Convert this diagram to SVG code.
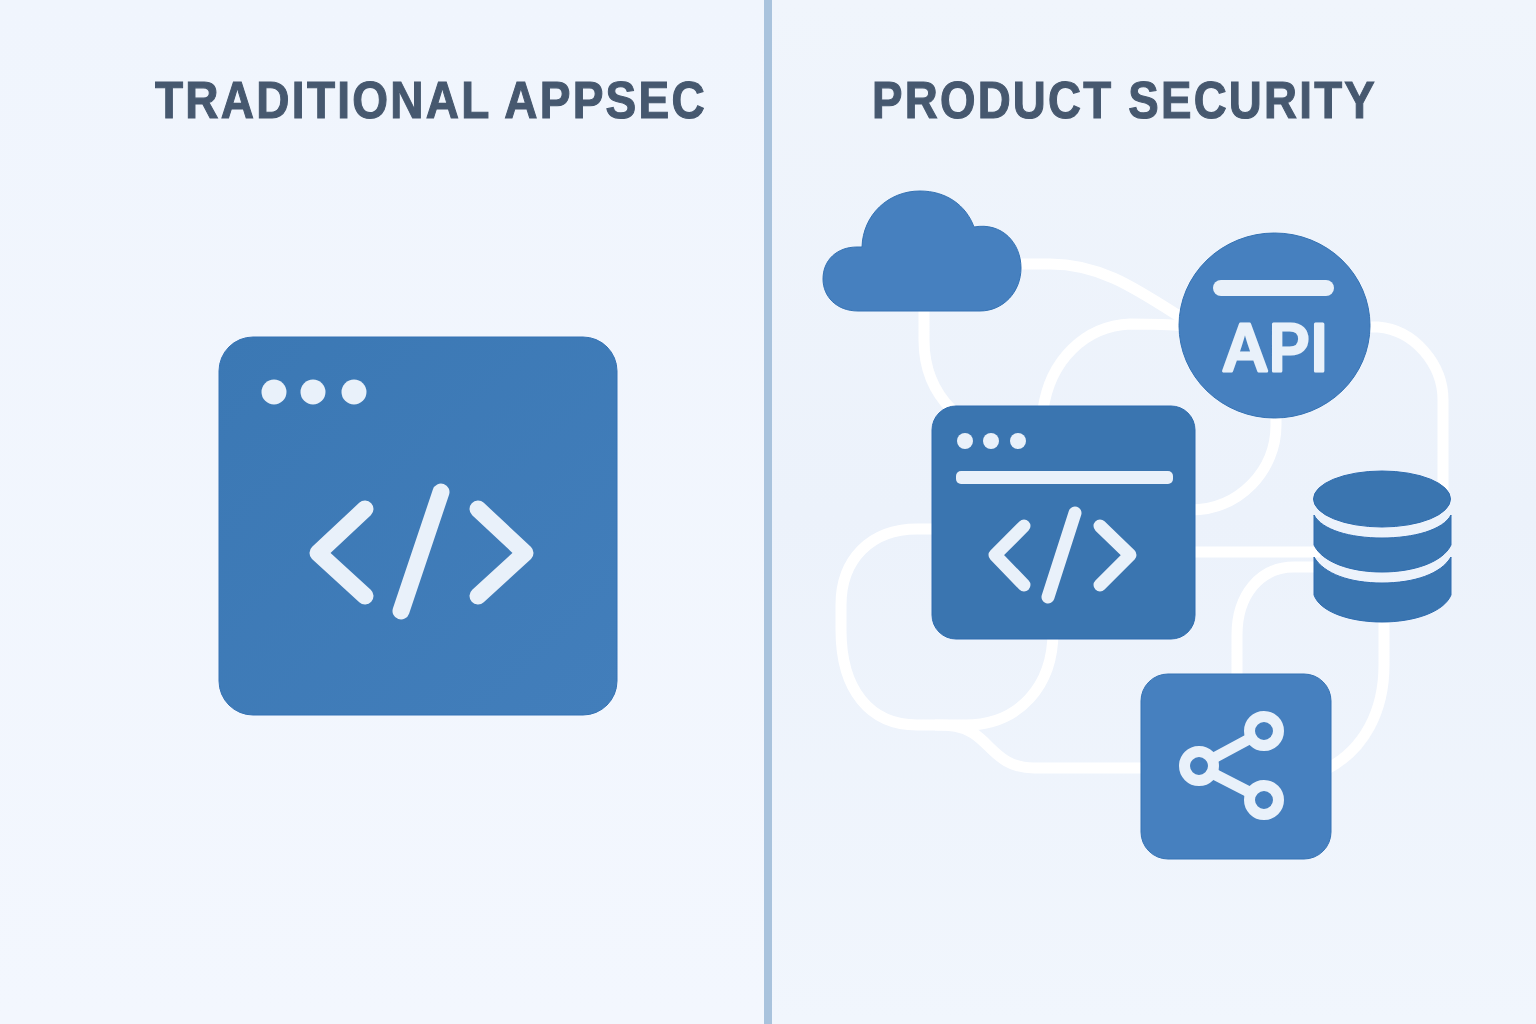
<svg xmlns="http://www.w3.org/2000/svg" width="1536" height="1024" viewBox="0 0 1536 1024">
<defs>
<linearGradient id="bgL" x1="0" y1="0" x2="0" y2="1"><stop offset="0" stop-color="#f0f5fd"/><stop offset="1" stop-color="#f3f7fe"/></linearGradient>
<linearGradient id="bgR" x1="0" y1="0" x2="0" y2="1"><stop offset="0" stop-color="#f0f5fc"/><stop offset="0.5" stop-color="#ecf2fb"/><stop offset="1" stop-color="#f1f6fd"/></linearGradient>
<linearGradient id="winL" x1="0" y1="0" x2="1" y2="1"><stop offset="0" stop-color="#3b78b4"/><stop offset="1" stop-color="#427ebb"/></linearGradient>
</defs>
<style>
.title{font-family:"Liberation Sans",Arial,sans-serif;font-weight:700;font-size:51px;letter-spacing:2.5px;fill:#46586f;stroke:#46586f;stroke-width:1.1px}
.link{fill:none;stroke:#ffffff;stroke-width:11;stroke-linecap:butt}
.glyph{fill:none;stroke:#e9f1fa;stroke-linecap:round;stroke-linejoin:round}
.light{fill:#e9f1fa}
.dark{fill:#3a75b0;stroke:#2f6db0;stroke-width:1}
.mid{fill:#4680bf;stroke:#3573b5;stroke-width:1}
</style>
<rect id="bg-left" x="0" y="0" width="764" height="1024" fill="url(#bgL)"/>
<rect id="bg-right" x="772" y="0" width="764" height="1024" fill="url(#bgR)"/>
<rect id="divider" x="764" y="0" width="8" height="1024" fill="#a9c3dd"/>
<text id="title-left" class="title" x="155" y="118" textLength="552" lengthAdjust="spacingAndGlyphs">TRADITIONAL APPSEC</text>
<text id="title-right" class="title" x="872" y="118" textLength="505" lengthAdjust="spacingAndGlyphs">PRODUCT SECURITY</text>

<g id="legacy-window">
<rect x="219" y="337" width="398" height="378" rx="34" fill="url(#winL)" stroke="#3573b5"/>
<circle class="light" cx="274" cy="392" r="12.5"/><circle class="light" cx="313" cy="392" r="12.5"/><circle class="light" cx="354" cy="392" r="12.5"/>
<path class="glyph" stroke-width="17" d="M365 509L318 553L365 596M441 492L401 611M478 509L525 553L478 596"/>
</g>

<g id="connectors">
<path class="link" d="M1015 264H1050C1100 264 1135 288 1182 318"/>
<path class="link" d="M924 305V340C924 370 934 392 952 410"/>
<path class="link" d="M1185 326C1165 324 1150 324 1130 324C1085 326 1050 360 1043 410"/>
<path class="link" d="M1276 412V425C1276 470 1240 510 1190 510"/>
<path class="link" d="M1365 327H1378C1415 330 1443 365 1443 400V490"/>
<path class="link" d="M1190 552H1320"/>
<path class="link" d="M1320 567H1294C1260 567 1237 595 1237 635V680"/>
<path class="link" d="M1384 615V665C1384 710 1365 750 1325 770"/>
<path class="link" d="M1147 768H1034C1000 768 992 745 973 733C962 726 950 725 935 725H917C870 725 841 690 841 630V605C841 560 870 529 917 529H940"/>
<path class="link" d="M1053 632C1053 685 1020 725 965 725H935"/>
</g>

<g id="cloud-node">
<path class="mid" d="M858 311C836 311 823 296 823 279C823 260 837 247 857 247H862C863 215 888 191 920 191C946 191 966 205 974 227C1002 222 1021 243 1021 268C1021 292 1003 311 980 311Z"/>
</g>

<g id="api-node">
<ellipse class="mid" cx="1274.5" cy="325.5" rx="95.5" ry="92.5"/>
<rect class="light" x="1213" y="280" width="121" height="16" rx="8"/>
<text x="1275" y="371" text-anchor="middle" textLength="106" lengthAdjust="spacingAndGlyphs" style="font-family:'Inter','Liberation Sans',sans-serif;font-weight:500;font-size:64px;fill:#e9f1fa;stroke:#e9f1fa;stroke-width:3;stroke-linejoin:round">API</text>
</g>

<g id="code-window-node">
<rect class="dark" x="932" y="406" width="263" height="233" rx="24"/>
<circle class="light" cx="965" cy="441" r="8"/><circle class="light" cx="991" cy="441" r="8"/><circle class="light" cx="1018" cy="441" r="8"/>
<rect class="light" x="956" y="471" width="217" height="13" rx="5"/>
<path class="glyph" stroke-width="13" d="M1024 526L995 555L1024 585M1075 513L1048 597M1100 526L1130 555L1100 585"/>
</g>

<g id="database-node">
<path class="dark" d="M1314 557C1324 574 1350 583 1382 583C1414 583 1441 574 1451 557V595C1444 612 1414 622 1382 622C1350 622 1320 612 1314 595Z"/>
<path class="dark" d="M1314 515C1322 530 1350 538 1382 538C1414 538 1443 530 1451 515V545C1443 562 1414 572 1382 572C1350 572 1322 562 1314 545Z"/>
<ellipse class="dark" cx="1382" cy="499" rx="68.500" ry="28"/>
</g>

<g id="share-node">
<rect class="mid" x="1141" y="674" width="190" height="185" rx="27"/>
<path class="glyph" stroke-width="11" stroke-linecap="butt" d="M1212 759L1251 738M1212 773L1251 793"/>
<circle class="glyph" cx="1264" cy="731" r="14.500" stroke-width="11"/>
<circle class="glyph" cx="1199" cy="766" r="14.500" stroke-width="11"/>
<circle class="glyph" cx="1264" cy="800" r="14.500" stroke-width="11"/>
</g>
</svg>
